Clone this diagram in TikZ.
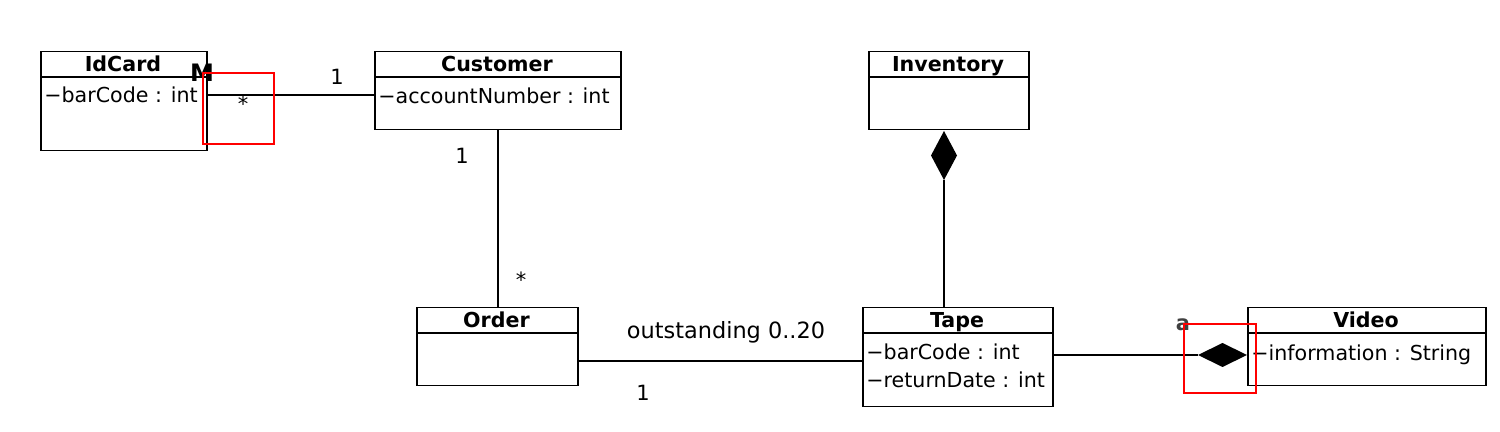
\documentclass[tikz,border=0pt]{standalone}
\usepackage{fontspec}
\setmainfont{DejaVu Sans}
\begin{document}
\begin{tikzpicture}[x=0.5pt,y=-0.5pt,
  box/.style={draw,line width=0.75pt,anchor=north west,inner sep=0pt,fill=white},
  title/.style={font=\bfseries\fontsize{10.3}{12}\selectfont,inner sep=0pt,anchor=base},
  attr/.style={font=\fontsize{10.3}{12}\selectfont,anchor=base west,inner sep=0pt},
  lbl/.style={font=\fontsize{10.5}{12}\selectfont,inner sep=0pt},
  conn/.style={line width=0.75pt},
  hl/.style={draw=red,line width=0.6pt}]
\useasboundingbox (0,0) rectangle (1500,432);
% boxes
\node[box,minimum width=83pt,minimum height=49.5pt] (idcard) at (40,51) {};
\node[box,minimum width=123pt,minimum height=39pt] (customer) at (374,51) {};
\node[box,minimum width=80pt,minimum height=39pt] (inventory) at (868,51) {};
\node[box,minimum width=80.5pt,minimum height=39pt] (order) at (416,307) {};
\node[box,minimum width=95pt,minimum height=49.5pt] (tape) at (862,307) {};
\node[box,minimum width=119pt,minimum height=39pt] (video) at (1247,307) {};
% separators
\draw[line width=0.75pt] (40,77) -- (206,77);
\draw[line width=0.75pt] (374,77) -- (620,77);
\draw[line width=0.75pt] (868,77) -- (1028,77);
\draw[line width=0.75pt] (416,333) -- (577,333);
\draw[line width=0.75pt] (862,333) -- (1052,333);
\draw[line width=0.75pt] (1247,333) -- (1485,333);
% titles
\node[title] (t1) at (123,72) {IdCard};
\node[title] (t2) at (497,72) {Customer};
\node[title] (t3) at (948,72) {Inventory};
\node[title] (t4) at (496.5,328) {Order};
\node[title] (t5) at (957,328) {Tape};
\node[title] (t6) at (1366,328) {Video};
% attributes
\node[attr] (a1) at (44,103) {−barCode : int};
\node[attr] (a2) at (378,104) {−accountNumber : int};
\node[attr] (a3) at (866,360) {−barCode : int};
\node[attr] (a4) at (866,388) {−returnDate : int};
\node[attr] (a5) at (1251,361) {−information : String};
% connectors
\coordinate (ic) at (206,95);
\coordinate (cc) at (374,95);
\draw[conn] (ic) -- (cc);
\draw[conn] (customer.south) -- (customer.south |- order.north);
\coordinate (oe) at (577,361);
\coordinate (te) at (862,361);
\draw[conn] (oe) -- (te);
% Inventory composition diamond
\coordinate (d1t) at (944,131);
\coordinate (d1b) at (944,180);
\fill (d1t) -- (957,155.5) -- (d1b) -- (931,155.5) -- cycle;
\draw[conn] (d1b) -- (tape.north -| d1b);
% Video composition diamond
\coordinate (d2r) at (1247,355);
\coordinate (d2l) at (1198,355);
\fill (d2r) -- (1222.5,343) -- (d2l) -- (1222.5,367) -- cycle;
\coordinate (ts) at (1052,355);
\draw[conn] (ts) -- (d2l);
% labels
\node[lbl] (l1) at (337,77) {1};
\node[lbl] (l2) at (243,104) {*};
\node[lbl] (l3) at (462,156) {1};
\node[lbl] (l4) at (521,280) {*};
\node[lbl,font=\fontsize{11.2}{13}\selectfont] (l5) at (726,332) {outstanding 0..20};
\node[lbl] (l6) at (643,393) {1};
\node[font=\bfseries\fontsize{12}{13}\selectfont,inner sep=0pt] (m) at (202,73) {M};
\node[font=\bfseries\fontsize{10.5}{12}\selectfont,text=black!75,inner sep=0pt] (aa) at (1183,325) {a};
% red highlight rectangles
\draw[hl] (203,73) rectangle (274,144);
\draw[hl] (1184,324) rectangle (1256,393);
\end{tikzpicture}
\end{document}
